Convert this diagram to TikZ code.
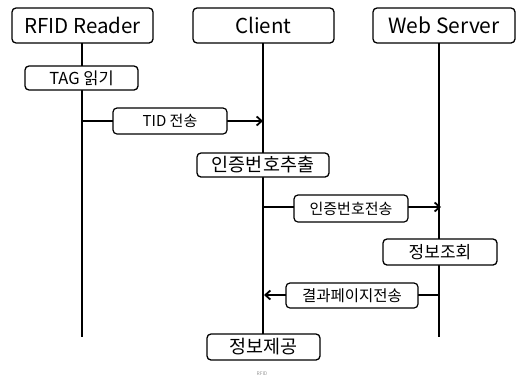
\documentclass[tikz,border=0pt]{standalone}
\usepackage{fontspec}
\setmainfont{Noto Sans CJK KR}
\usetikzlibrary{arrows.meta}
\newcommand\fsz[1]{\fontsize{#1}{#1}\selectfont}
\begin{document}
\begin{tikzpicture}[x=1pt,y=-1pt,
  actor/.style={draw,line width=1.3pt,rounded corners=4pt,fill=white,
    minimum width=141pt,minimum height=35pt,inner sep=0pt,font=\fsz{20.5}},
  stepbox/.style={draw,line width=1.3pt,rounded corners=4pt,fill=white,
    minimum height=25pt,inner sep=0pt},
  msgbox/.style={draw,line width=1.2pt,rounded corners=4pt,fill=white,
    minimum height=26pt,inner sep=0pt},
  life/.style={line width=2pt},
  msg/.style={line width=1.8pt,-{Straight Barb[length=5pt,width=9pt,line width=1.8pt]}}]
\useasboundingbox (0,0) rectangle (516,378);

% participants
\node[actor] (reader) at (82.5,25.5) {RFID Reader};
\node[actor] (client) at (263.5,25.5) {Client};
\node[actor,minimum width=142pt,font=\fsz{21}] (server) at (444,25.5) {Web Server};

% lifeline ends
\coordinate (readerEnd) at (82,337);
\coordinate (serverEnd) at (439,337);
\coordinate (readerTop) at (82,43);
\coordinate (clientTop) at (263,43);
\coordinate (serverTop) at (439,43);

\draw[life] (readerTop) -- (readerEnd);
\draw[life] (clientTop) -- (263,334);
\draw[life] (serverTop) -- (serverEnd);

% message end points
\coordinate (m1s) at (82,121);   \coordinate (m1t) at (263,121);
\coordinate (m2s) at (263,207);  \coordinate (m2t) at (441,207);
\coordinate (m3s) at (439,295);  \coordinate (m3t) at (264,295);

\draw[msg] (m1s) -- (m1t);
\draw[msg] (m2s) -- (m2t);
\draw[msg] (m3s) -- (m3t);

% activity boxes
\node[stepbox,minimum width=113pt,minimum height=24pt,font=\fsz{16.5}] (tag) at (81.5,78) {TAG 읽기};
\node[stepbox,minimum width=132pt,minimum height=24pt,font=\fsz{18.5}] (extract) at (263,165) {인증번호추출};
\node[stepbox,minimum width=114pt,minimum height=26pt,font=\fsz{17}] (lookup) at (440,252) {정보조회};
\node[stepbox,minimum width=113pt,minimum height=26pt,font=\fsz{18.5}] (provide) at (263.5,347) {정보제공};

% message labels
\node[msgbox,minimum width=114pt,font=\fsz{15}] (tid) at (170,121) {TID 전송};
\node[msgbox,minimum width=114pt,minimum height=27pt,font=\fsz{15}] (send) at (351,208.5) {인증번호전송};
\node[msgbox,minimum width=132pt,minimum height=25pt,font=\fsz{15.5}] (result) at (352,295.5) {결과페이지전송};

% caption
\node[text=black!40,font=\fsz{5},inner sep=0pt] (cap) at (262,374) {RFID};
\end{tikzpicture}
\end{document}
